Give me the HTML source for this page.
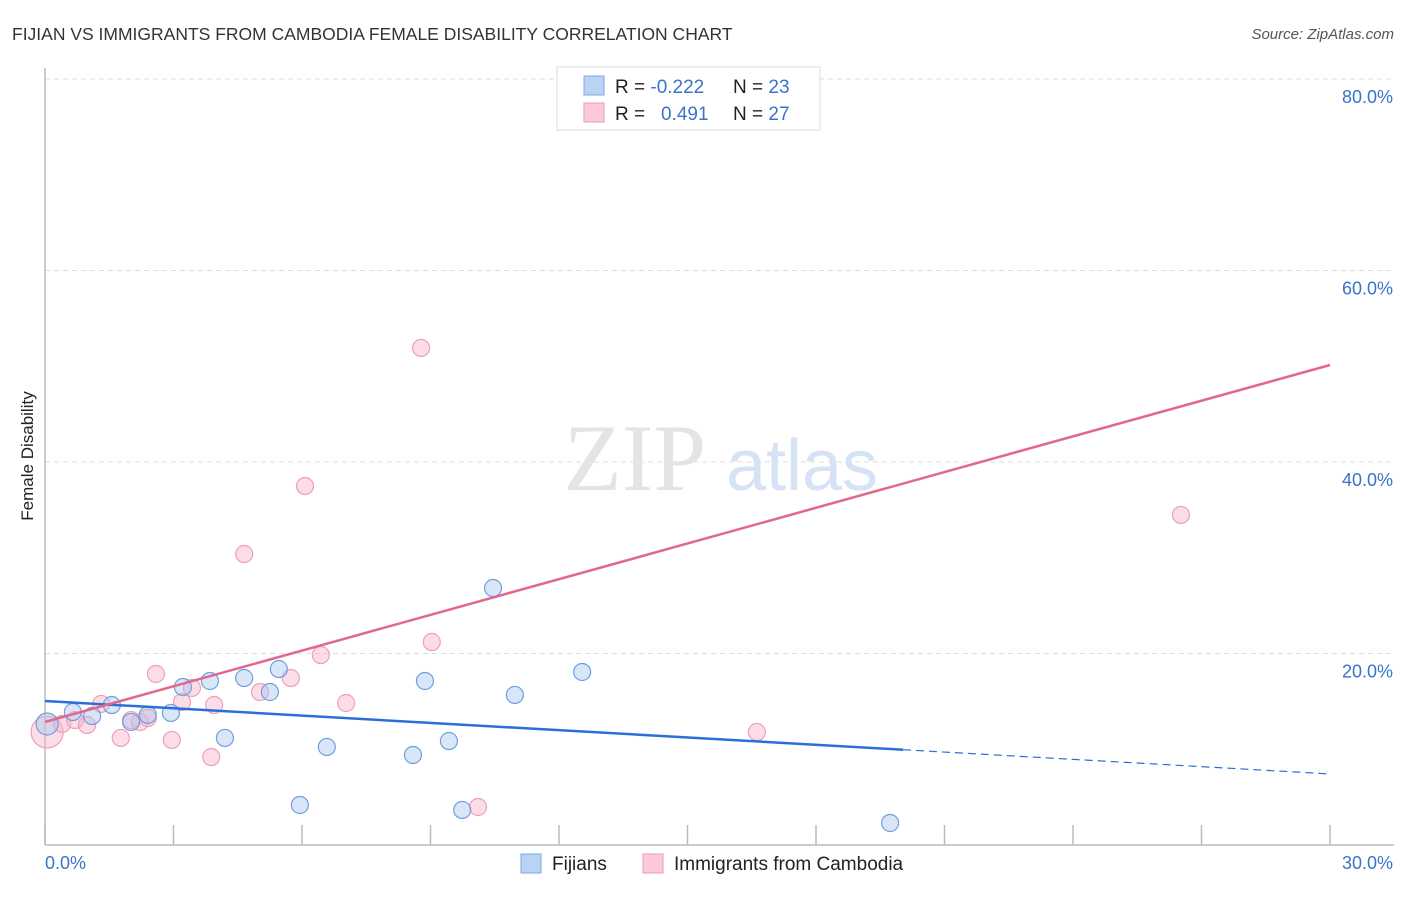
<!DOCTYPE html>
<html><head><meta charset="utf-8"><style>
body{margin:0;background:#fff;font-family:"Liberation Sans",sans-serif;}
</style></head><body>
<svg width="1406" height="892" viewBox="0 0 1406 892" xmlns="http://www.w3.org/2000/svg" style="font-family:'Liberation Sans',sans-serif">
<text x="12" y="40" font-size="17.5" fill="#333">FIJIAN VS IMMIGRANTS FROM CAMBODIA FEMALE DISABILITY CORRELATION CHART</text>
<text x="1394" y="39" font-size="15" fill="#555" font-style="italic" text-anchor="end">Source: ZipAtlas.com</text>
<g id="grid"></g>
<g><text x="635" y="490" font-size="95" fill="#e4e4e4" font-family="Liberation Serif,serif" text-anchor="middle">ZIP</text><text x="802" y="490" font-size="72" fill="#d6e3f5" text-anchor="middle">atlas</text></g>
<line x1="45" y1="68" x2="45" y2="845" stroke="#bbb" stroke-width="1.5"/>
<line x1="45" y1="845" x2="1394" y2="845" stroke="#bbb" stroke-width="1.5"/>
<g id="ticks"></g>
<g id="ylabels"></g>
<text x="45" y="869" font-size="18" fill="#3a74c9">0.0%</text>
<text x="1393" y="869" font-size="18" fill="#3a74c9" text-anchor="end">30.0%</text>
<text transform="translate(33,456) rotate(-90)" font-size="17" fill="#222" text-anchor="middle">Female Disability</text>
<g id="pts"></g>
<g id="lines"></g>
<g>
<rect x="557" y="67" width="263" height="63" fill="#fff" stroke="#ddd"/>
<rect x="584" y="76" width="20" height="19" fill="#b9d3f5" stroke="#7ea7e0"/>
<rect x="584" y="103" width="20" height="19" fill="#fbc9d8" stroke="#ec9ab5"/>
<text x="615" y="93" font-size="19" fill="#222">R = <tspan fill="#3a74c9">-0.222</tspan><tspan x="733">N = </tspan><tspan fill="#3a74c9">23</tspan></text>
<text x="615" y="120" font-size="19" fill="#222">R = <tspan x="661" fill="#3a74c9">0.491</tspan><tspan x="733">N = </tspan><tspan fill="#3a74c9">27</tspan></text>
</g>
<g>
<rect x="521" y="854" width="20" height="19" fill="#b9d3f5" stroke="#7ea7e0"/>
<text x="552" y="870" font-size="19" fill="#222">Fijians</text>
<rect x="643" y="854" width="20" height="19" fill="#fbc9d8" stroke="#ec9ab5"/>
<text x="674" y="870" font-size="19" fill="#222">Immigrants from Cambodia</text>
</g>
</svg>
<script>
const yTicks=[20,40,60,80];
const fijX=[0.05,0.65,1.10,1.56,2.01,2.40,2.94,3.22,3.85,4.20,4.65,5.25,5.46,5.95,6.58,8.59,8.87,9.43,9.74,10.46,10.97,12.54,19.73];
const fijY=[12.64,13.89,13.47,14.62,12.85,13.58,13.79,16.50,17.13,11.18,17.44,15.98,18.38,4.18,10.24,9.40,17.13,10.86,3.66,26.84,15.67,18.07,2.30];
const camX=[0.05,0.40,0.70,0.98,1.31,1.77,2.01,2.22,2.40,2.59,2.96,3.20,3.43,3.88,3.95,4.65,5.02,5.74,6.07,6.44,7.03,8.78,9.03,10.11,15.03,16.62,26.52];
const camY=[11.80,12.64,13.05,12.53,14.73,11.18,13.05,12.85,13.26,17.86,10.97,14.93,16.40,9.19,14.62,30.39,15.98,17.44,37.49,19.84,14.83,51.91,21.20,3.97,75.61,11.80,34.47];
const fijTrend=[15.04,7.42], fijSolidEnd=20.03;
const camTrend=[12.85,50.13];
const X=v=>45+v/30*1285, Y=v=>845-v/20*191.5;
const NS="http://www.w3.org/2000/svg";
function mk(t,a,p){const e=document.createElementNS(NS,t);for(const k in a)e.setAttribute(k,a[k]);p.appendChild(e);return e;}
const grid=document.getElementById('grid'),yl=document.getElementById('ylabels');
yTicks.forEach(t=>{const l=mk('line',{x1:45,x2:1394,y1:Y(t),y2:Y(t),stroke:'#ddd','stroke-dasharray':'5,4'},grid);


const tx=mk('text',{x:1393,y:Y(t)+24,'font-size':18,fill:'#3a74c9','text-anchor':'end'},yl);tx.textContent=t.toFixed(1)+'%';

});
const tk=document.getElementById('ticks');
for(let i=0;i<=10;i++){const l=mk('line',{x1:X(i*3),x2:X(i*3),y1:825,y2:845,stroke:'#bbb','stroke-width':1.5},tk);

}
const pts=document.getElementById('pts');
camX.forEach((x,i)=>{const c=mk('circle',{cx:X(x),cy:Y(camY[i]),r:i==0?16:8.5,fill:'rgba(248,180,200,0.45)',stroke:'#ee9fba','stroke-width':1.2},pts);

});
fijX.forEach((x,i)=>{const c=mk('circle',{cx:X(x),cy:Y(fijY[i]),r:i==0?11:8.5,fill:'rgba(170,200,240,0.45)',stroke:'#6f9fe0','stroke-width':1.2},pts);

});
const ln=document.getElementById('lines');
const fy=x=>fijTrend[0]+(fijTrend[1]-fijTrend[0])*x/30;
let a=mk('line',{x1:X(0),y1:Y(fijTrend[0]),x2:X(fijSolidEnd),y2:Y(fy(fijSolidEnd)),stroke:'#2a6fd6','stroke-width':2.5},ln);


a=mk('line',{x1:X(fijSolidEnd),y1:Y(fy(fijSolidEnd)),x2:X(30),y2:Y(fijTrend[1]),stroke:'#2a6fd6','stroke-width':1.2,'stroke-dasharray':'8,5'},ln);


a=mk('line',{x1:X(0),y1:Y(camTrend[0]),x2:X(30),y2:Y(camTrend[1]),stroke:'#e2678f','stroke-width':2.5},ln);


</script>
</body></html>
